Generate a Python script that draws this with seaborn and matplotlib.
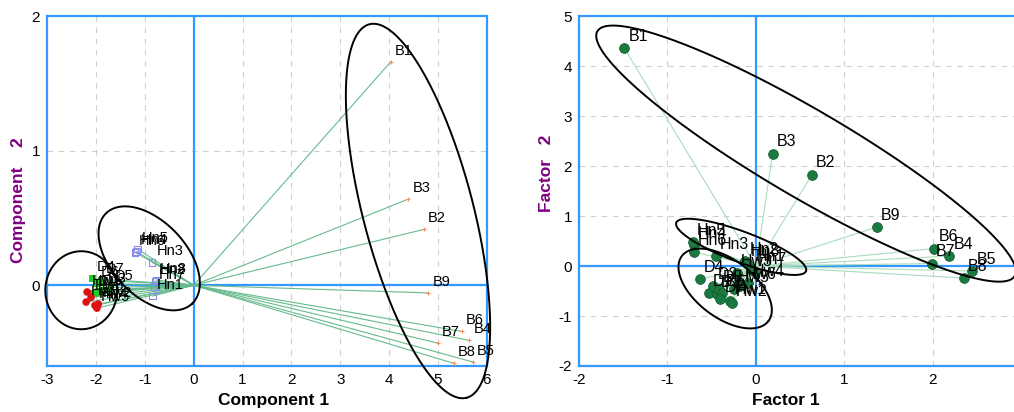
import numpy as np
import pandas as pd
import matplotlib
matplotlib.use('Agg')
import matplotlib.pyplot as plt
import seaborn as sns

# --- left panel: Component 1 / Component 2 ---
b_names = ['B1', 'B2', 'B3', 'B4', 'B5', 'B6', 'B7', 'B8', 'B9']
b_c1 = [4.03, 4.71, 4.39, 5.64, 5.71, 5.48, 5.00, 5.32, 4.80]
b_c2 = [1.66, 0.415, 0.64, -0.41, -0.57, -0.343, -0.43, -0.58, -0.057]

hn_names = ['Hn1', 'Hn2', 'Hn3', 'Hn4', 'Hn5', 'Hn6', 'Hn7', 'Hn8']
hn_c1 = [-0.84, -0.79, -0.85, -1.17, -1.15, -1.20, -0.80, -0.77]
hn_c2 = [-0.08, 0.03, 0.17, 0.25, 0.27, 0.245, -0.01, 0.04]

d_names = ['D1', 'D2', 'D3', 'D4', 'D5', 'D6', 'D7']
d_c1 = [-2.04, -1.95, -1.85, -2.066, -1.71, -1.98, -1.88]
d_c2 = [-0.062, -0.05, -0.037, 0.05, -0.017, 0.012, 0.037]

hw_names = ['Hw1', 'Hw2', 'Hw3', 'Hw4', 'Hw5', 'Hw6']
hw_c1 = [-2.18, -1.95, -2.20, -2.02, -1.98, -2.10]
hw_c2 = [-0.05, -0.14, -0.125, -0.15, -0.17, -0.09]

# --- right panel: Factor 1 / Factor 2 ---
b_f1 = [-1.49, 0.636, 0.19, 2.19, 2.45, 2.02, 1.99, 2.35, 1.37]
b_f2 = [4.37, 1.83, 2.25, 0.20, -0.10, 0.35, 0.05, -0.24, 0.78]

hn_f1 = [-0.05, -0.12, -0.45, -0.70, -0.716, -0.70, -0.02, -0.10]
hn_f2 = [-0.05, 0.10, 0.20, 0.42, 0.48, 0.28, -0.10, 0.06]

d_f1 = [-0.535, -0.479, -0.441, -0.637, -0.422, -0.384, -0.403]
d_f2 = [-0.533, -0.40, -0.566, -0.266, -0.466, -0.533, -0.666]

hw_f1 = [-0.290, -0.271, -0.215, -0.083, -0.252, -0.177]
hw_f2 = [-0.70, -0.746, -0.133, -0.333, -0.466, -0.40]

# ellipses: centre, semi-axis vector u, semi-axis vector v (data units)
ell_left = [((-2.30, -0.037), (0.736, 0.0), (0.0, 0.29)),
            ((-0.91, 0.20), (0.88, -0.336), (0.548, 0.191)),
            ((4.59, 0.552), (0.996, -1.388), (1.09, 0.104))]
ell_right = [((0.568, 2.25), (2.36, -2.45), (0.25, 0.752)),
             ((-0.166, 0.384), (0.734, -0.484), (0.06, 0.287)),
             ((-0.347, -0.45), (0.49, -0.65), (0.197, 0.464))]

blue = '#3399ff'
purple = '#800080'

sns.set_style('white')
plt.rcParams['font.family'] = ['Liberation Sans', 'DejaVu Sans']
plt.rcParams['text.color'] = 'black'
plt.rcParams['axes.labelcolor'] = 'black'
plt.rcParams['xtick.color'] = 'black'
plt.rcParams['ytick.color'] = 'black'


def make_df(x_b, y_b, x_hn, y_hn, x_d, y_d, x_hw, y_hw):
    return pd.DataFrame({
        'name': b_names + hn_names + d_names + hw_names,
        'x': list(x_b) + list(x_hn) + list(x_d) + list(x_hw),
        'y': list(y_b) + list(y_hn) + list(y_d) + list(y_hw),
        'group': ['B'] * len(b_names) + ['Hn'] * len(hn_names)
                 + ['D'] * len(d_names) + ['Hw'] * len(hw_names),
    })


def rays(df):
    # one segment from origin to each point
    origin = df[['name']].assign(x=0.0, y=0.0)
    return pd.concat([origin, df[['name', 'x', 'y']]], ignore_index=True)


def style_axes(ax, xlim, ylim, xticks, yticks, xlabel, ylabel, xlab_pos, ylab_pos):
    ax.set_xlim(*xlim)
    ax.set_ylim(*ylim)
    ax.set_xticks(xticks)
    ax.set_yticks(yticks)
    ax.set_xticklabels([str(t) for t in xticks])
    ax.set_yticklabels([str(t) for t in yticks])
    ax.grid(True, color='#cfcfcf', linestyle=(0, (5, 5)), linewidth=0.8)
    ax.set_axisbelow(True)
    ax.axhline(0, color=blue, lw=1.6, zorder=1)
    ax.axvline(0, color=blue, lw=1.6, zorder=1)
    for sp in ax.spines.values():
        sp.set_color(blue)
        sp.set_linewidth(1.6)
    ax.tick_params(length=0, labelsize=11, pad=5, colors='black')
    ax.set_xlabel(xlabel, fontsize=12.5, fontweight='bold', color='black')
    ax.set_ylabel(ylabel, fontsize=12.5, fontweight='bold', color=purple)
    ax.xaxis.set_label_coords(*xlab_pos)
    ax.yaxis.set_label_coords(*ylab_pos)


def draw_ellipses(ax, ells):
    t = np.linspace(0, 2 * np.pi, 300)
    for (cx, cy), (ux, uy), (vx, vy) in ells:
        ax.plot(cx + ux * np.cos(t) + vx * np.sin(t),
                cy + uy * np.cos(t) + vy * np.sin(t),
                color='black', lw=1.4, clip_on=False, zorder=4)


def label_points(ax, df, size):
    for _, r in df.iterrows():
        ax.annotate(r['name'], (r['x'], r['y']), xytext=(3, 3),
                    textcoords='offset points', fontsize=size,
                    ha='left', va='bottom', color='black', zorder=6)


left = make_df(b_c1, b_c2, hn_c1, hn_c2, d_c1, d_c2, hw_c1, hw_c2)
right = make_df(b_f1, b_f2, hn_f1, hn_f2, d_f1, d_f2, hw_f1, hw_f2)

fig = plt.figure(figsize=(10.14, 4.12), dpi=100)
ax1 = fig.add_axes([0.0464, 0.1117, 0.4338, 0.849])
ax2 = fig.add_axes([0.571, 0.1117, 0.436, 0.849])

# left panel
sns.lineplot(data=rays(left), x='x', y='y', units='name', estimator=None,
             sort=False, color='#66bb8c', lw=0.8, ax=ax1, zorder=2)
sns.scatterplot(data=left[left.group == 'B'], x='x', y='y', marker='+',
                color='#ff8855', s=12, linewidth=0.8, ax=ax1, zorder=3)
ax1.scatter(left.loc[left.group == 'Hn', 'x'], left.loc[left.group == 'Hn', 'y'],
            marker='s', facecolors='none', edgecolors='#8c8cf0', s=22,
            linewidths=0.8, zorder=3)
sns.scatterplot(data=left[left.group == 'D'], x='x', y='y', marker='s',
                color='#22cc22', s=28, edgecolor='none', ax=ax1, zorder=3)
sns.scatterplot(data=left[left.group == 'Hw'], x='x', y='y', marker='o',
                color='#e01010', s=30, edgecolor='none', ax=ax1, zorder=3)
draw_ellipses(ax1, ell_left)
label_points(ax1, left, 10.5)
style_axes(ax1, (-3, 6), (-0.6, 2), list(range(-3, 7)), [0, 1, 2],
           'Component 1', 'Component    2', (0.516, -0.077), (-0.048, 0.474))

# right panel
sns.lineplot(data=rays(right), x='x', y='y', units='name', estimator=None,
             sort=False, color='#a8dcbc', lw=0.8, ax=ax2, zorder=2)
sns.scatterplot(data=right, x='x', y='y', marker='o', color='#1a7a40',
                s=50, edgecolor='#0f5a2c', linewidth=0.5, ax=ax2, zorder=3)
draw_ellipses(ax2, ell_right)
label_points(ax2, right, 11.5)
style_axes(ax2, (-2, 3), (-2, 5), list(range(-2, 4)), list(range(-2, 6)),
           'Factor 1', 'Factor   2', (0.468, -0.077), (-0.057, 0.55))

fig.savefig('out.png', dpi=100)
